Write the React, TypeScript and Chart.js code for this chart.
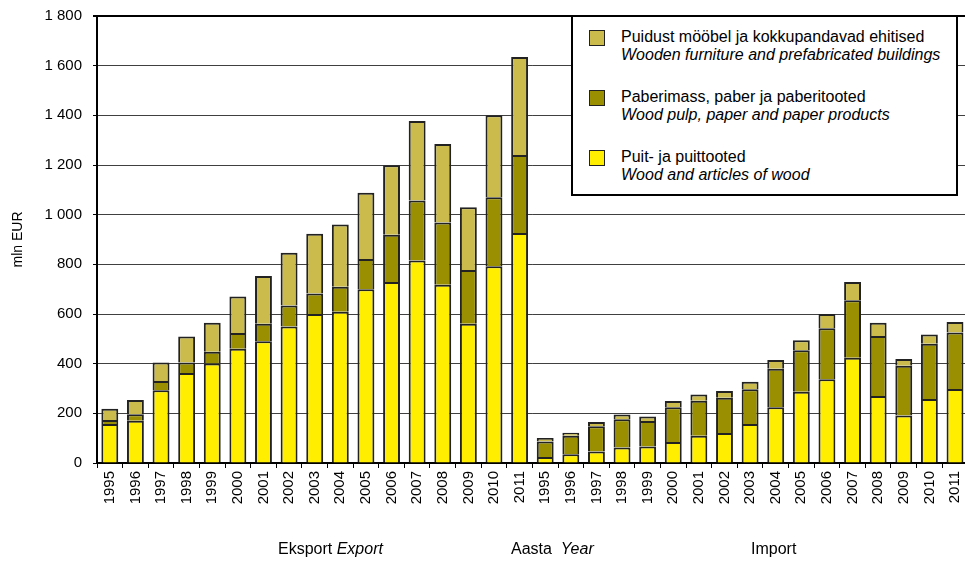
import React, { useEffect, useRef } from "react";
import { Chart, registerables } from "chart.js";

Chart.register(...registerables);

const exportYears = ["1995","1996","1997","1998","1999","2000","2001","2002","2003","2004","2005","2006","2007","2008","2009","2010","2011"];
const importYears = ["1995","1996","1997","1998","1999","2000","2001","2002","2003","2004","2005","2006","2007","2008","2009","2010","2011"];

// Puit- ja puittooted / Wood and articles of wood
const woodExport = [157, 170, 293, 362, 401, 460, 490, 550, 600, 609, 700, 729, 815, 718, 561, 792, 926];
const woodImport = [24, 35, 46, 62, 66, 85, 110, 121, 157, 224, 287, 337, 424, 270, 191, 258, 298];
// Paberimass, paber ja paberitooted / Wood pulp, paper and paper products
const paperExport = [16, 26, 37, 43, 47, 63, 71, 84, 83, 101, 121, 190, 242, 250, 216, 278, 314];
const paperImport = [63, 75, 102, 114, 103, 139, 141, 142, 140, 156, 167, 206, 231, 241, 201, 222, 228];
// Puidust mööbel ja kokkupandavad ehitised / Wooden furniture and prefabricated buildings
const furnitureExport = [45, 58, 75, 104, 117, 147, 192, 213, 240, 250, 267, 280, 320, 317, 253, 330, 395];
const furnitureImport = [14, 12, 17, 19, 18, 26, 25, 27, 30, 35, 40, 57, 74, 54, 27, 37, 42];

const yTicks = [0, 200, 400, 600, 800, 1000, 1200, 1400, 1600, 1800];

const categories = [...exportYears, ...importYears];
const woodData = [...woodExport, ...woodImport];
const paperData = [...paperExport, ...paperImport];
const furnitureData = [...furnitureExport, ...furnitureImport];

const YELLOW = "#FFEE00";
const OLIVE = "#998F00";
const LIGHT_OLIVE = "#CABB4C";
const FONT = "'Liberation Sans', Arial, sans-serif";

function fmt(v: number): string {
  if (v >= 1000) {
    const th = Math.floor(v / 1000);
    const rest = String(v % 1000).padStart(3, "0");
    return th + " " + rest;
  }
  return String(v);
}

export default function App() {
  const ref = useRef<HTMLCanvasElement | null>(null);

  useEffect(() => {
    if (!ref.current) return;
    const ds = (label: string, data: number[], color: string) => ({
      label,
      data,
      backgroundColor: color,
      borderColor: "#222222",
      borderWidth: 2,
      borderSkipped: "start" as const,
      inflateAmount: 0,
      barPercentage: 0.66,
      categoryPercentage: 1,
    });
    const chart = new Chart(ref.current, {
      type: "bar",
      data: {
        labels: categories,
        datasets: [
          ds("Puit- ja puittooted", woodData, YELLOW),
          ds("Paberimass, paber ja paberitooted", paperData, OLIVE),
          ds("Puidust mööbel ja kokkupandavad ehitised", furnitureData, LIGHT_OLIVE),
        ],
      },
      options: {
        responsive: false,
        animation: false,
        layout: { padding: { top: 16, right: 0, bottom: 0, left: 0 } },
        plugins: { legend: { display: false }, tooltip: { enabled: false } },
        scales: {
          x: {
            stacked: true,
            offset: true,
            grid: {
              display: true,
              drawOnChartArea: false,
              drawTicks: true,
              tickLength: 5,
              color: "#000",
              offset: true,
            },
            border: { display: true, color: "#000", width: 2 },
            ticks: {
              autoSkip: false,
              maxRotation: 90,
              minRotation: 90,
              padding: 3,
              color: "#000",
              font: { family: FONT, size: 15 },
            },
            afterFit: (scale: any) => {
              scale.height = 99;
            },
          },
          y: {
            stacked: true,
            min: 0,
            max: 1800,
            afterBuildTicks: (scale: any) => {
              scale.ticks = yTicks.map((v) => ({ value: v }));
            },
            ticks: {
              stepSize: 200,
              padding: 11,
              color: "#000",
              font: { family: FONT, size: 15, lineHeight: 0.5 },
              callback: (v: any) => fmt(Number(v)),
            },
            grid: {
              drawTicks: true,
              tickLength: 4,
              tickColor: "#000",
              color: (ctx: any) => (ctx.tick && ctx.tick.value === 1800 ? "#000" : "#404040"),
              lineWidth: (ctx: any) => (ctx.tick && ctx.tick.value === 1800 ? 2 : 1),
            },
            border: { display: true, color: "#000", width: 2 },
            title: {
              display: true,
              text: "mln EUR",
              color: "#000",
              font: { family: FONT, size: 14 },
              padding: { top: 10, bottom: 0 },
            },
            afterFit: (scale: any) => {
              scale.width = 97;
            },
          },
        },
      },
    });
    return () => chart.destroy();
  }, []);

  const legendItems = [
    { color: LIGHT_OLIVE, et: "Puidust mööbel ja kokkupandavad ehitised", en: "Wooden furniture and prefabricated buildings", top: 28 },
    { color: OLIVE, et: "Paberimass, paber ja paberitooted", en: "Wood pulp, paper and paper products", top: 88 },
    { color: YELLOW, et: "Puit- ja puittooted", en: "Wood and articles of wood", top: 148 },
  ];

  const textStyle: React.CSSProperties = {
    position: "absolute",
    fontFamily: FONT,
    fontSize: 16,
    lineHeight: "18px",
    color: "#000",
    whiteSpace: "nowrap",
  };

  return (
    <div
      style={{
        position: "fixed",
        left: 0,
        top: 0,
        width: 965,
        height: 562,
        overflow: "hidden",
        background: "#fff",
      }}
    >
      <canvas ref={ref} width={976} height={562} style={{ position: "absolute", left: 0, top: 0 }} />
      <div
        style={{
          position: "absolute",
          left: 571,
          top: 15,
          width: 383,
          height: 177,
          border: "2px solid #000",
          background: "#fff",
        }}
      />
      {legendItems.map((it, i) => (
        <React.Fragment key={i}>
          <div
            style={{
              position: "absolute",
              left: 589,
              top: it.top + 2,
              width: 14,
              height: 14,
              background: it.color,
              border: "1.5px solid #222",
            }}
          />
          <div style={{ ...textStyle, left: 621, top: it.top }}>{it.et}</div>
          <div style={{ ...textStyle, left: 621, top: it.top + 18, fontStyle: "italic" }}>{it.en}</div>
        </React.Fragment>
      ))}
      <div style={{ ...textStyle, left: 278, top: 540 }}>
        Eksport <i>Export</i>
      </div>
      <div style={{ ...textStyle, left: 511, top: 540, whiteSpace: "pre" }}>
        Aasta  <i>Year</i>
      </div>
      <div style={{ ...textStyle, left: 751, top: 540 }}>Import</div>
    </div>
  );
}
